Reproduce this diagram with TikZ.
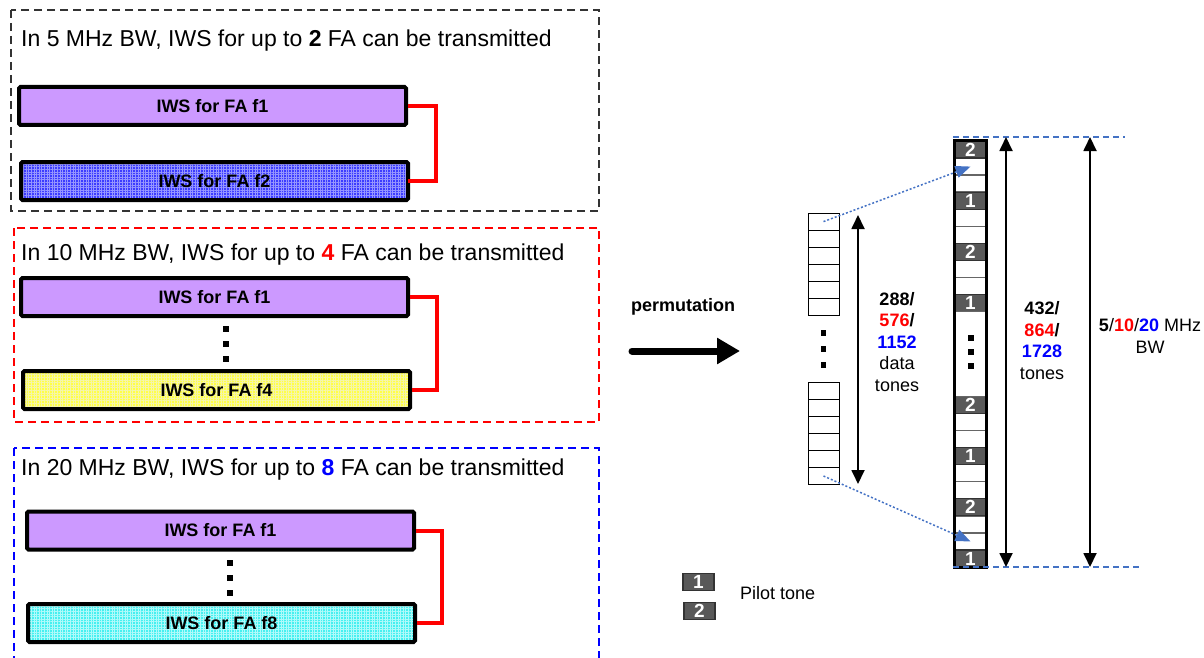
\documentclass[tikz,border=0pt]{standalone}
\usepackage{fontspec}
\setmainfont{Liberation Sans}
\usetikzlibrary{arrows.meta,patterns.meta}

\definecolor{lavender}{RGB}{204,153,255}
\definecolor{fatwoblue}{RGB}{60,60,255}
\definecolor{fatwogrid}{RGB}{150,150,255}
\definecolor{fafouryel}{RGB}{255,255,70}
\definecolor{fafourgrid}{RGB}{245,245,170}
\definecolor{faeightcyan}{RGB}{70,240,240}
\definecolor{faeightgrid}{RGB}{175,250,250}
\definecolor{pilotgrey}{RGB}{89,89,89}
\definecolor{tonelink}{RGB}{68,114,196}
\definecolor{boxgrey}{RGB}{51,51,51}

\tikzset{
  iwsbar/.style={draw,line width=4pt,rounded corners=1.5pt,minimum width=387pt,minimum height=38pt,inner sep=0pt,font=\bfseries\fontsize{18}{20}\selectfont},
  gridfill/.style 2 args={preaction={fill=#1},pattern color=#2,pattern={Hatch[angle=0,distance=2.6pt,line width=0.45pt]}},
  redlink/.style={red,line width=4pt},
  bwbox/.style={dash pattern=on 8pt off 5pt,line width=1.3pt},
  bwtitle/.style={anchor=west,inner sep=0pt,font=\fontsize{23}{26}\selectfont},
  cellsm/.style={draw,line width=0.9pt,minimum width=31pt,minimum height=17.1pt,inner sep=0pt},
  cellw/.style={draw=gray!80!black,fill=white,line width=1.3pt,minimum width=31pt,minimum height=17.04pt,inner sep=0pt},
  cellp/.style={draw=boxgrey,fill=pilotgrey,text=white,line width=1.2pt,minimum width=31pt,minimum height=17.04pt,inner sep=0pt,font=\bfseries\fontsize{19}{19}\selectfont},
  dimarrow/.style={line width=1.8pt,{Triangle[length=14pt,width=13pt]}-{Triangle[length=14pt,width=13pt]}},
  bluedash/.style={tonelink,line width=2pt,dash pattern=on 6pt off 4pt},
  bluedot/.style={tonelink,line width=1.5pt,dash pattern=on 2pt off 2pt,-{Triangle[length=15pt,width=12pt]}},
  lbl/.style={align=center,inner sep=0pt,font=\fontsize{18}{21.5}\selectfont}
}

\begin{document}
\begin{tikzpicture}[x=1pt,y=-1pt]
\useasboundingbox (0,0) rectangle (1204,658);
\clip (0,0) rectangle (1204,658);

% 5 MHz
\draw[bwbox,boxgrey] (11,10) rectangle (599,211);
\node[bwtitle] (titleFive) at (21,41) {In 5 MHz BW, IWS for up to \textbf{2} FA can be transmitted};
\node[iwsbar,fill=lavender] (fiveF1) at (212.5,106) {IWS for FA f1};
\node[iwsbar,gridfill={fatwoblue}{fatwogrid}] (fiveF2) at (214.5,181) {IWS for FA f2};
\draw[redlink] (fiveF1.east) -- ++(28,0) |- (fiveF2.east);

% 10 MHz
\draw[bwbox,red] (14,228) rectangle (599,422);
\node[bwtitle] (titleTen) at (21,255) {In 10 MHz BW, IWS for up to \textbf{\textcolor{red}{4}} FA can be transmitted};
\node[iwsbar,fill=lavender] (tenF1) at (214.5,297) {IWS for FA f1};
\node[iwsbar,gridfill={fafouryel}{fafourgrid}] (tenF4) at (216.5,390) {IWS for FA f4};
\draw[redlink] (tenF1.east) -- ++(27,0) |- (tenF4.east);
\foreach \y in {329,344,359}
  \fill (223,\y-3) rectangle ++(6,6);

% 20 MHz
\draw[bwbox,blue] (14,448) rectangle (599,690);
\node[bwtitle] (titleTwenty) at (21,470) {In 20 MHz BW, IWS for up to \textbf{\textcolor{blue}{8}} FA can be transmitted};
\node[iwsbar,fill=lavender] (twentyF1) at (220.5,530.5) {IWS for FA f1};
\node[iwsbar,gridfill={faeightcyan}{faeightgrid}] (twentyF8) at (221.5,623) {IWS for FA f8};
\draw[redlink] (twentyF1.east) -- ++(26,0) |- (twentyF8.east);
\foreach \y in {563,578,593}
  \fill (227,\y-3) rectangle ++(6,6);

% permutation
\node[font=\bfseries\fontsize{18}{20}\selectfont] (permText) at (683,307) {permutation};
\coordinate (permStart) at (632,351);
\coordinate (permEnd) at (740,351);
\draw[line width=7pt,line cap=round,-{Triangle[length=23pt,width=25pt]}] (permStart) -- (permEnd);

% data tones
\foreach \k in {0,...,5} {
  \node[cellsm] (smA\k) at (823.5,{221.6+\k*17.1}) {};
  \node[cellsm] (smB\k) at (823.5,{390.5+\k*17.1}) {};
}
\foreach \y in {333,349,365}
  \fill (820.5,\y-2.75) rectangle ++(5.5,5.5);
\coordinate (dataTop) at (858,215);
\coordinate (dataBot) at (858,484);
\draw[dimarrow] (dataTop) -- (dataBot);
\node[lbl] (dataLbl) at (897,342) {\textbf{288/}\\\textbf{\textcolor{red}{576}/}\\\textbf{\textcolor{blue}{1152}}\\data\\tones};

% all tones
\foreach \i in {1,2,4,5,7,8,16,17,19,20,22,23}
  \node[cellw] (tall\i) at (970.5,{141+(\i+0.5)*17.04}) {};
\foreach \i/\n in {0/2,3/1,6/2,9/1,15/2,18/1,21/2,24/1}
  \node[cellp] (tall\i) at (970.5,{141+(\i+0.5)*17.04}) {\n};
\node[cellw,minimum height=85.2pt] (tallGap) at (970.5,354) {};
\foreach \y in {338,352,366}
  \fill (967.5,\y-3) rectangle ++(6,6);
\draw[line width=3pt] (tall0.north west) rectangle (tall24.south east);

\coordinate (lineTopL) at (953,137);
\coordinate (lineTopR) at (1125,137);
\coordinate (lineBotL) at (953,567);
\coordinate (lineBotR) at (1140,567);
\draw[bluedash] (lineTopL) -- (lineTopR);
\draw[bluedash] (lineBotL) -- (lineBotR);

\draw[bluedot] (smA0.center) -- (tall1.center);
\draw[bluedot] (smB5.center) -- (tall23.center);

\coordinate (toneTop) at (1006,137);
\coordinate (toneBot) at (1006,567);
\draw[dimarrow] (toneTop) -- (toneBot);
\node[lbl] (toneLbl) at (1042,340.5) {\textbf{432/}\\\textbf{\textcolor{red}{864}/}\\\textbf{\textcolor{blue}{1728}}\\tones};

\coordinate (bwTop) at (1090,137);
\coordinate (bwBot) at (1090,567);
\draw[dimarrow] (bwTop) -- (bwBot);
\node[lbl] (bwLbl) at (1150,336) {\textbf{5}/\textbf{\textcolor{red}{10}}/\textbf{\textcolor{blue}{20}} MHz\\BW};

% legend
\node[cellp,minimum height=17pt] (legOne) at (698.5,582) {1};
\node[cellp,minimum height=17pt] (legTwo) at (699.5,611) {2};
\node[anchor=west,inner sep=0pt,font=\fontsize{18}{20}\selectfont] (legText) at (740,593) {Pilot tone};
\end{tikzpicture}
\end{document}
